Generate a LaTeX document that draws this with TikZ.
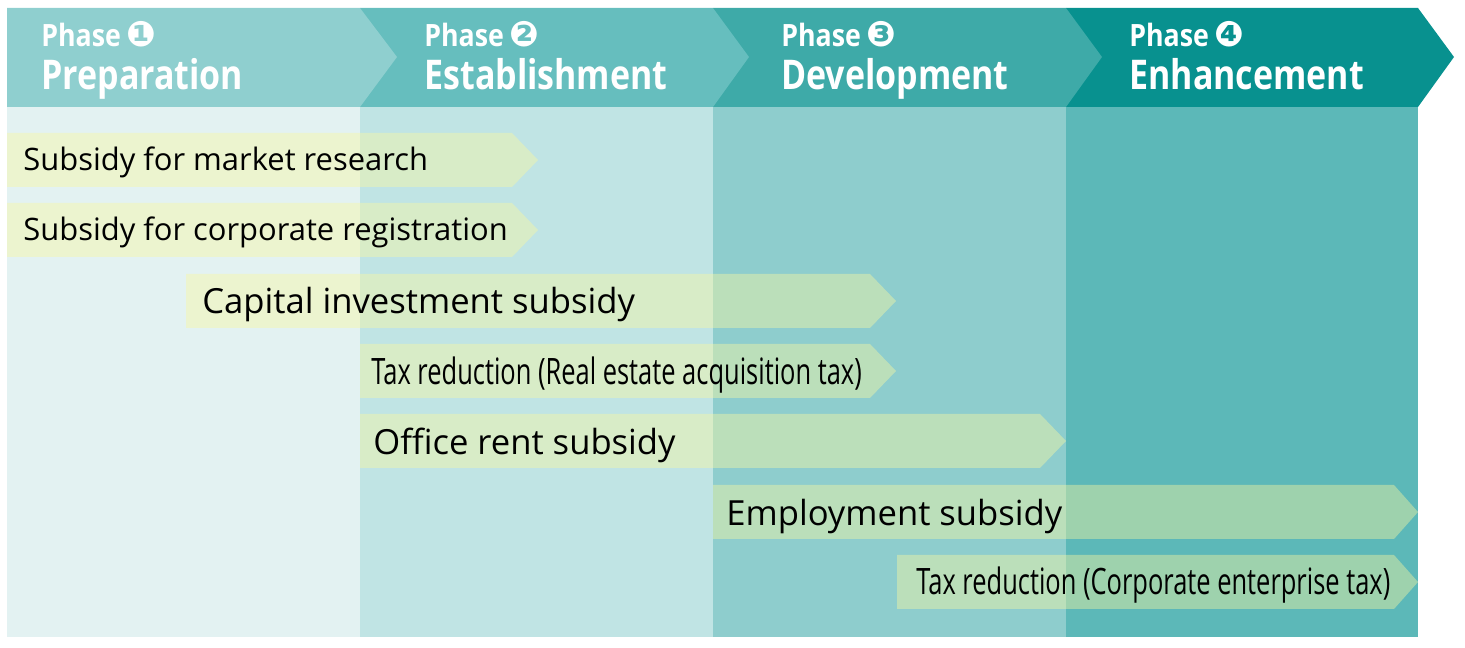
\documentclass[tikz,border=0pt]{standalone}
\usepackage{fontspec}
\setmainfont{Open Sans}
\newfontfamily\circfont{DejaVu Sans}
\usetikzlibrary{positioning}

\definecolor{hdA}{RGB}{143,207,207}
\definecolor{hdB}{RGB}{102,190,190}
\definecolor{hdC}{RGB}{62,170,168}
\definecolor{hdD}{RGB}{8,145,143}
\definecolor{colA}{RGB}{227,242,242}
\definecolor{colB}{RGB}{192,228,228}
\definecolor{colC}{RGB}{142,205,205}
\definecolor{colD}{RGB}{92,184,184}
\definecolor{barfill}{RGB}{250,248,160}

\newcommand{\phasetag}[1]{\scalebox{0.87}[1]{Phase}\,{\circfont\fontsize{20}{20}\selectfont #1}}

\tikzset{
  phasenum/.style={anchor=base west, text=white, inner sep=0pt,
    font=\bfseries\fontsize{17.5}{20}\selectfont},
  phasename/.style={anchor=base west, text=white, inner sep=0pt,
    font=\bfseries\fontsize{23.3}{27}\selectfont},
  barlabel/.style={anchor=base west, inner sep=0pt, text=black,
    font=\fontsize{17.6}{20}\selectfont},
  biglabel/.style={barlabel, font=\fontsize{19.7}{22}\selectfont},
  taxlabel/.style={anchor=base west, inner sep=0pt, text=black,
    font=\fontsize{20.7}{23}\selectfont},
  barshape/.style={fill=barfill, fill opacity=0.42}
}

\begin{document}
\begin{tikzpicture}[x=0.02cm,y=-0.02cm]

  \useasboundingbox (0,0) rectangle (1465,648);

  % columns
  \fill [colA] (7,107) rectangle (360,637);
  \fill [colB] (360,107) rectangle (713,637);
  \fill [colC] (713,107) rectangle (1066,637);
  \fill [colD] (1066,107) rectangle (1418,637);

  % header chevrons, right to left
  \fill [hdD] (1066,8) -- (1418,8) -- (1454,57) -- (1418,107) -- (1066,107) -- cycle;
  \fill [hdC] (713,8) -- (1066,8) -- (1102,57) -- (1066,107) -- (713,107) -- cycle;
  \fill [hdB] (360,8) -- (713,8) -- (749,57) -- (713,107) -- (360,107) -- cycle;
  \fill [hdA] (7,8) -- (360,8) -- (397,57) -- (360,107) -- (7,107) -- cycle;

  \node [phasenum] (ph1) at (41,47) {\phasetag{❶}};
  \node [phasename] (name1) at (41,90) {\scalebox{0.83}[1]{Preparation}};
  \node [phasenum] (ph2) at (424,47) {\phasetag{❷}};
  \node [phasename] (name2) at (424,90) {\scalebox{0.83}[1]{Establishment}};
  \node [phasenum] (ph3) at (781,47) {\phasetag{❸}};
  \node [phasename] (name3) at (781,90) {\scalebox{0.83}[1]{Development}};
  \node [phasenum] (ph4) at (1129,47) {\phasetag{❹}};
  \node [phasename] (name4) at (1129,90) {\scalebox{0.83}[1]{Enhancement}};

  % support bars
  \fill [barshape] (7,133) -- (512,133) -- (538,160) -- (512,187) -- (7,187) -- cycle;
  \fill [barshape] (7,203) -- (512,203) -- (538,230) -- (512,257) -- (7,257) -- cycle;
  \fill [barshape] (186,274) -- (870,274) -- (896,301) -- (870,328) -- (186,328) -- cycle;
  \fill [barshape] (360,344) -- (870,344) -- (896,371) -- (870,398) -- (360,398) -- cycle;
  \fill [barshape] (360,414) -- (1040,414) -- (1066,441) -- (1040,468) -- (360,468) -- cycle;
  \fill [barshape] (713,485) -- (1394,485) -- (1418,512) -- (1394,539) -- (713,539) -- cycle;
  \fill [barshape] (897,555) -- (1394,555) -- (1418,582) -- (1394,609) -- (897,609) -- cycle;

  \node [barlabel] (market) at (23,171) {Subsidy for market research};
  \node [barlabel] (regist) at (23,241) {Subsidy for corporate registration};
  \node [biglabel] (capital) at (202,314) {Capital investment subsidy};
  \node [taxlabel] (estate) at (371,385) {\scalebox{0.70}[1]{Tax reduction (Real estate acquisition tax)}};
  \node [biglabel] (office) at (373,455) {Office rent subsidy};
  \node [biglabel] (employ) at (726,526) {Employment subsidy};
  \node [taxlabel] (corptax) at (916,595) {\scalebox{0.70}[1]{Tax reduction (Corporate enterprise tax)}};

\end{tikzpicture}
\end{document}
